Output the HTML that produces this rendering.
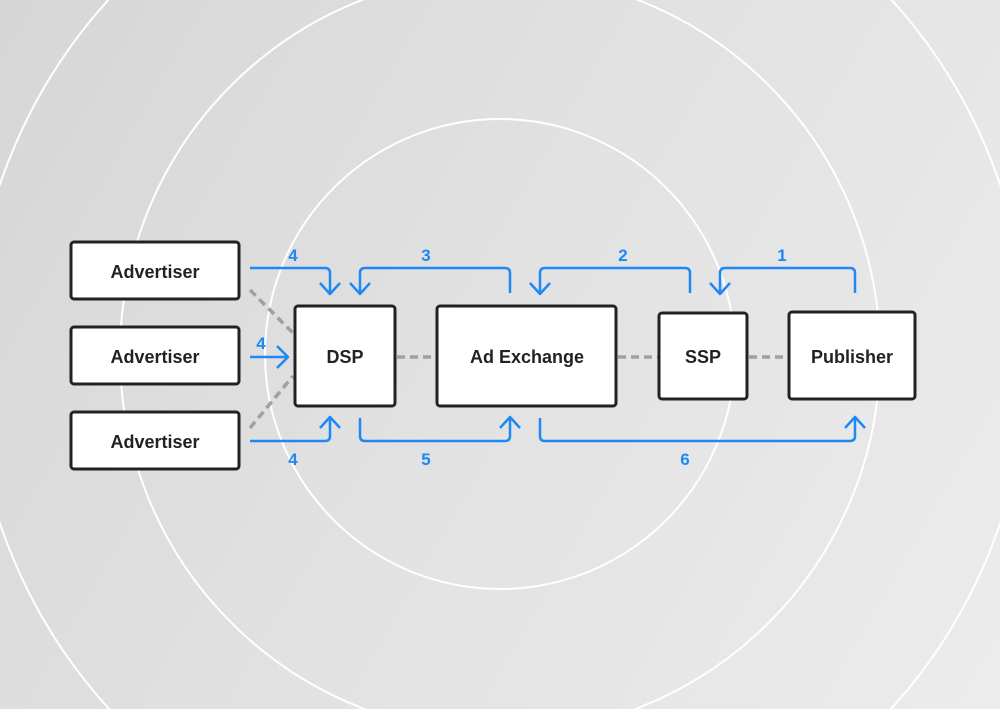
<!DOCTYPE html>
<html><head><style>
html,body{margin:0;padding:0;width:1000px;height:709px;overflow:hidden}
body{background:linear-gradient(120deg,#d6d6d6 0%,#e2e2e2 50%,#ececec 100%);font-family:"Liberation Sans",sans-serif}
svg{display:block}
</style></head><body>
<svg width="1000" height="709" viewBox="0 0 1000 709" xmlns="http://www.w3.org/2000/svg">
<g fill="none" stroke="#fff" stroke-width="2">
<circle cx="500" cy="354" r="235"/>
<circle cx="500" cy="354" r="380"/>
<circle cx="500" cy="354" r="528"/>
</g>
<g stroke="#a0a0a0" stroke-width="3.5" stroke-dasharray="8,5" fill="none">
<line x1="250" y1="290" x2="293" y2="333"/>
<line x1="250" y1="428" x2="293" y2="376"/>
<line x1="397" y1="357" x2="436" y2="357"/>
<line x1="618" y1="357" x2="658" y2="357"/>
<line x1="749" y1="357" x2="788" y2="357"/>
</g>
<g stroke="#1e88f5" stroke-width="2.5" fill="none" stroke-linejoin="round">
<path d="M250 268 H325 q5 0 5 5 V293 M320 283 L330 294 L340 283"/>
<path d="M510 293 V273 q0-5-5-5 H365 q-5 0-5 5 V293 M350 283 L360 294 L370 283"/>
<path d="M690 293 V273 q0-5-5-5 H545 q-5 0-5 5 V293 M530 283 L540 294 L550 283"/>
<path d="M855 293 V273 q0-5-5-5 H725 q-5 0-5 5 V293 M710 283 L720 294 L730 283"/>
<path d="M250 357 H288 M277 346 L288 357 L277 368"/>
<path d="M250 441 H325 q5 0 5-5 V418 M320 428 L330 417 L340 428"/>
<path d="M360 418 V436 q0 5 5 5 H505 q5 0 5-5 V418 M500 428 L510 417 L520 428"/>
<path d="M540 418 V436 q0 5 5 5 H850 q5 0 5-5 V418 M845 428 L855 417 L865 428"/>
</g>
<g fill="#1e88f5" font-family="Liberation Sans, sans-serif" font-weight="bold" font-size="17" text-anchor="middle">
<text x="293" y="261">4</text><text x="426" y="261">3</text><text x="623" y="261">2</text><text x="782" y="261">1</text>
<text x="261" y="349">4</text>
<text x="293" y="465">4</text><text x="426" y="465">5</text><text x="685" y="465">6</text>
</g>
<g fill="#fff" stroke="#222" stroke-width="3">
<rect x="71" y="242" width="168" height="57" rx="3"/>
<rect x="71" y="327" width="168" height="57" rx="3"/>
<rect x="71" y="412" width="168" height="57" rx="3"/>
<rect x="295" y="306" width="100" height="100" rx="3"/>
<rect x="437" y="306" width="179" height="100" rx="3"/>
<rect x="659" y="313" width="88" height="86" rx="3"/>
<rect x="789" y="312" width="126" height="87" rx="3"/>
</g>
<g fill="#222" font-family="Liberation Sans, sans-serif" font-weight="bold" font-size="18" text-anchor="middle">
<text x="155" y="278">Advertiser</text>
<text x="155" y="363">Advertiser</text>
<text x="155" y="448">Advertiser</text>
<text x="345" y="363">DSP</text>
<text x="527" y="363">Ad Exchange</text>
<text x="703" y="363">SSP</text>
<text x="852" y="363">Publisher</text>
</g>
</svg>
</body></html>
